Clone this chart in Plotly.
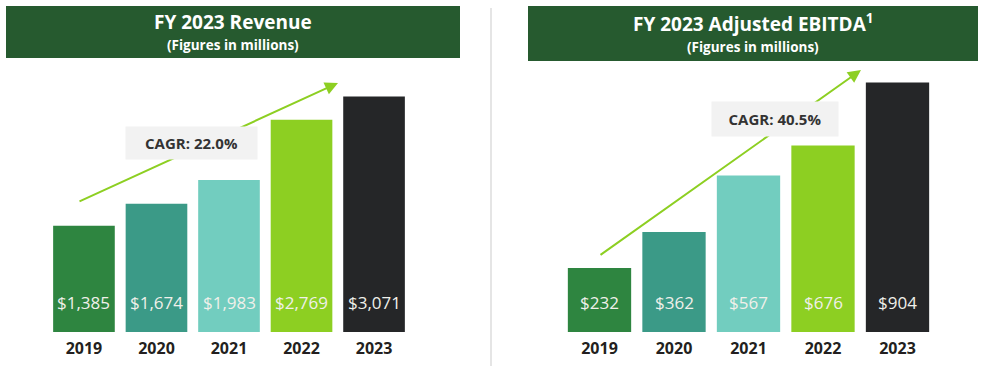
import plotly.graph_objects as go

years = ["2019", "2020", "2021", "2022", "2023"]
revenue = [1385, 1674, 1983, 2769, 3071]
ebitda = [232, 362, 567, 676, 904]
bar_colors = ["#2e8540", "#3b9a87", "#72cdbf", "#8dcf22", "#252628"]
rev_cagr = "CAGR: 22.0%"
ebitda_cagr = "CAGR: 40.5%"

W, H = 986, 368
FONT = "Open Sans"

def px(x):
    return x / W

def py(y):
    return 1 - y / H

fig = go.Figure()

fig.add_trace(go.Bar(x=years, y=revenue, marker=dict(color=bar_colors, line=dict(width=0)),
                     xaxis="x", yaxis="y", hoverinfo="skip"))
fig.add_trace(go.Bar(x=years, y=ebitda, marker=dict(color=bar_colors, line=dict(width=0)),
                     xaxis="x2", yaxis="y2", hoverinfo="skip"))

annotations = []
for xa, ya, vals in (("x", "y", revenue), ("x2", "y2", ebitda)):
    for i, v in enumerate(vals):
        annotations.append(dict(x=i, y=0, xref=xa, yref=ya, yshift=30, text=f"${v:,}",
                                xanchor="center", yanchor="middle",
                                showarrow=False, font=dict(family=FONT, size=17, color="#f0f0ea")))

# headers
shapes = [
    dict(type="rect", xref="paper", yref="paper", x0=px(6), x1=px(460), y0=py(58), y1=py(6),
         fillcolor="#265a2f", line=dict(width=0), layer="below"),
    dict(type="rect", xref="paper", yref="paper", x0=px(528), x1=px(978), y0=py(61), y1=py(6),
         fillcolor="#265a2f", line=dict(width=0), layer="below"),
    dict(type="line", xref="paper", yref="paper", x0=px(491), x1=px(491), y0=py(366), y1=py(8),
         line=dict(color="#dcdcdc", width=1.5)),
]

def txt(x, y, text, size, color="white", **kw):
    d = dict(x=px(x), y=py(y), xref="paper", yref="paper", text=text, showarrow=False,
             xanchor="center", yanchor="middle", font=dict(family=FONT, size=size, color=color))
    d.update(kw)
    return d

annotations += [
    txt(233, 22, "<b>FY 2023 Revenue</b>", 19, borderpad=0),
    txt(233, 44.5, "<b>(Figures in millions)</b>", 13.5, borderpad=0),
    txt(753, 23, "<b>FY 2023 Adjusted EBITDA<sup>1</sup></b>", 19, borderpad=0),
    txt(753, 46.5, "<b>(Figures in millions)</b>", 13.5, borderpad=0),
    # arrows
    dict(x=px(338), y=py(83), xref="paper", yref="paper", ax=-260, ay=119, text="",
         showarrow=True, arrowhead=2, arrowsize=1.3, arrowwidth=2, arrowcolor="#8dcf22", standoff=0),
    dict(x=px(861), y=py(70), xref="paper", yref="paper", ax=-262, ay=186, text="",
         showarrow=True, arrowhead=2, arrowsize=1.3, arrowwidth=2, arrowcolor="#8dcf22", standoff=0),
    # CAGR boxes
    txt(191.5, 143, f"<b>{rev_cagr}</b>", 15, "#333333", bgcolor="#f2f2f2", width=131, height=32, borderpad=0),
    txt(775, 119, f"<b>{ebitda_cagr}</b>", 15, "#333333", bgcolor="#f2f2f2", width=126, height=34, borderpad=0),
]

ybottom = py(332)
axis_common = dict(type="category", range=[-0.5, len(years) - 0.5], autorange=False,
                   showgrid=False, zeroline=False, showline=False, ticks="",
                   automargin=False, fixedrange=True, ticklabelstandoff=5,
                   tickfont=dict(family=FONT, size=16, color="#231f20", weight="bold"))
fig.update_layout(
    width=W, height=H, margin=dict(l=0, r=0, t=0, b=0, autoexpand=False),
    paper_bgcolor="white", plot_bgcolor="white", showlegend=False,
    bargap=0.15,
    xaxis=dict(domain=[px(47.7), px(410.3)], anchor="y", **axis_common),
    xaxis2=dict(domain=[px(562.25), px(934.75)], anchor="y2", **axis_common),
    yaxis=dict(domain=[ybottom, 1], range=[0, 4330], visible=False, anchor="x", fixedrange=True),
    yaxis2=dict(domain=[ybottom, 1], range=[0, 1203], visible=False, anchor="x2", fixedrange=True),
    shapes=shapes, annotations=annotations,
)

fig.write_html("out.html", config={"displayModeBar": False},
               post_script="document.body.style.margin='0';")
